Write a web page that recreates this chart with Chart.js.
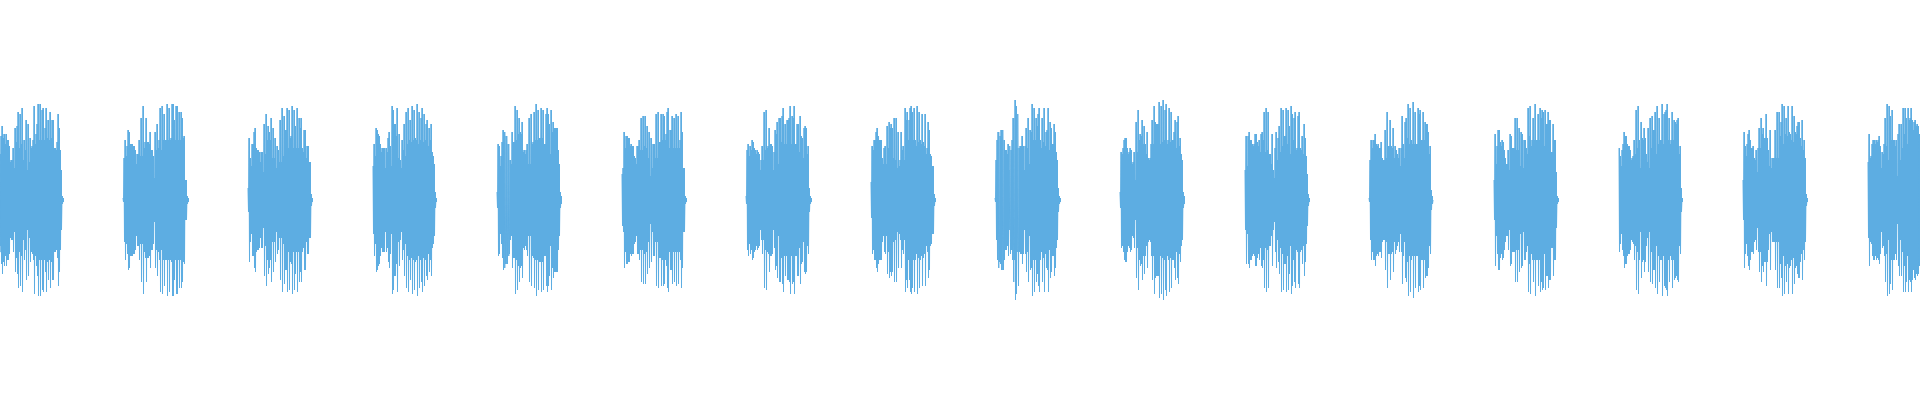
<!DOCTYPE html>
<html>
<head>
<meta charset="utf-8">
<script src="https://cdn.jsdelivr.net/npm/chart.js@4"></script>
<style>
    html, body { margin: 0; padding: 0; background: #ffffff; }
    #wrap { width: 1920px; height: 400px; }
</style>
</head>
<body>
<div id="wrap"><canvas id="waveChart" width="1920" height="400"></canvas></div>
<script>
// sample position where each burst begins
const burstStart = [-2, 123, 248, 373, 497, 622, 746, 871, 995, 1120, 1245, 1369, 1494, 1619, 1743, 1868];

// peak amplitude per sample column (percent of full scale)
const burst0 = [20, 26, 23, 32, 37, 31, 33, 28, 33, 30, 30, 27, 19, 20, 20, 26, 16, 36, 29, 37, 44, 26, 43, 28, 46, 20, 30, 25, 40, 15, 38, 19, 31, 26, 27, 30, 47, 28, 33, 38, 48, 30, 48, 30, 45, 46, 30, 36, 46, 31, 40, 30, 44, 31, 40, 40, 26, 26, 25, 29, 43, 36, 25, 15, 2, 1];
const burst1 = [1, 21, 30, 22, 27, 35, 34, 28, 28, 28, 27, 27, 25, 18, 23, 23, 30, 22, 41, 22, 47, 26, 29, 41, 29, 29, 28, 34, 25, 25, 22, 11, 34, 25, 38, 26, 30, 46, 25, 47, 30, 43, 30, 30, 48, 30, 46, 30, 31, 48, 48, 40, 30, 47, 47, 30, 44, 30, 44, 41, 31, 32, 10, 10, 2, 1];
const burst2 = [6, 31, 21, 17, 28, 28, 34, 36, 26, 25, 25, 24, 19, 24, 24, 14, 38, 23, 43, 30, 37, 34, 30, 41, 21, 36, 21, 31, 16, 27, 25, 19, 40, 19, 46, 22, 42, 35, 35, 46, 26, 45, 31, 32, 47, 26, 45, 37, 26, 46, 26, 41, 36, 41, 26, 24, 35, 35, 21, 27, 27, 19, 19, 3, 1];
const burst3 = [17, 28, 22, 36, 35, 33, 32, 28, 24, 26, 26, 26, 16, 26, 24, 31, 34, 27, 17, 47, 45, 38, 38, 32, 46, 21, 33, 20, 16, 30, 25, 38, 22, 44, 28, 46, 30, 40, 29, 47, 30, 45, 31, 30, 48, 28, 44, 30, 41, 46, 29, 43, 30, 38, 40, 27, 36, 30, 38, 24, 22, 18, 4, 1];
const burst4 = [4, 28, 27, 17, 22, 29, 35, 34, 32, 32, 32, 28, 27, 20, 18, 34, 29, 29, 47, 30, 45, 33, 41, 34, 33, 39, 24, 25, 23, 25, 28, 18, 41, 18, 43, 28, 29, 44, 30, 48, 30, 45, 31, 31, 46, 31, 45, 28, 28, 43, 46, 43, 38, 23, 45, 34, 39, 36, 36, 36, 36, 25, 18, 4, 2];
const burst5 = [13, 16, 34, 26, 32, 32, 31, 31, 27, 28, 27, 27, 22, 21, 18, 27, 27, 30, 25, 41, 25, 42, 27, 42, 26, 37, 21, 34, 12, 31, 16, 28, 28, 21, 43, 21, 44, 29, 29, 43, 30, 43, 42, 30, 33, 44, 46, 26, 35, 35, 42, 26, 41, 26, 43, 26, 42, 26, 30, 44, 34, 16, 16, 2, 1];
const burst6 = [2, 25, 28, 22, 27, 25, 30, 29, 26, 25, 23, 25, 24, 23, 15, 20, 27, 20, 44, 25, 45, 26, 27, 36, 28, 28, 27, 15, 24, 35, 33, 39, 18, 41, 41, 29, 42, 46, 28, 38, 28, 40, 40, 41, 47, 28, 42, 41, 47, 28, 28, 38, 38, 24, 42, 32, 31, 21, 36, 37, 36, 23, 27, 6, 2, 1];
const burst7 = [9, 27, 25, 30, 30, 34, 36, 32, 30, 30, 30, 21, 18, 26, 27, 18, 37, 26, 39, 36, 38, 36, 21, 41, 20, 41, 16, 34, 17, 20, 34, 25, 27, 20, 46, 40, 44, 30, 40, 46, 47, 44, 30, 46, 30, 27, 47, 29, 44, 30, 28, 43, 29, 27, 43, 23, 26, 39, 35, 23, 22, 17, 17, 3, 1];
const burst8 = [1, 20, 30, 34, 31, 32, 35, 35, 35, 30, 25, 25, 23, 28, 15, 27, 25, 30, 41, 30, 50, 47, 26, 43, 26, 27, 27, 32, 27, 15, 27, 36, 26, 41, 18, 35, 34, 48, 30, 46, 30, 41, 37, 43, 46, 30, 26, 41, 29, 46, 27, 34, 35, 46, 25, 39, 36, 28, 28, 38, 34, 24, 20, 6, 2, 1];
const burst9 = [4, 24, 23, 26, 30, 31, 31, 26, 23, 24, 26, 25, 18, 19, 24, 10, 39, 24, 45, 30, 33, 32, 40, 28, 37, 28, 23, 34, 21, 20, 21, 28, 40, 28, 47, 39, 38, 38, 38, 49, 28, 47, 29, 50, 30, 45, 48, 28, 30, 46, 29, 44, 30, 30, 34, 40, 26, 39, 42, 27, 31, 23, 20, 4, 2];
const burst10 = [15, 32, 17, 32, 34, 30, 30, 28, 27, 28, 33, 33, 29, 27, 30, 24, 33, 34, 30, 44, 24, 46, 25, 44, 23, 23, 18, 33, 15, 11, 26, 34, 20, 31, 37, 24, 46, 27, 45, 32, 32, 46, 28, 45, 37, 23, 47, 43, 30, 41, 44, 25, 26, 42, 44, 26, 25, 32, 23, 38, 31, 22, 13, 3, 1];
const burst11 = [1, 20, 30, 26, 30, 30, 33, 28, 27, 28, 26, 26, 29, 21, 20, 20, 35, 21, 44, 27, 27, 40, 27, 26, 36, 21, 27, 25, 23, 21, 26, 17, 26, 42, 28, 21, 39, 41, 31, 48, 28, 46, 30, 28, 49, 28, 44, 28, 28, 46, 43, 45, 30, 30, 44, 30, 39, 38, 38, 34, 23, 27, 5, 2, 0];
const burst12 = [10, 33, 18, 27, 35, 35, 29, 27, 30, 29, 25, 21, 18, 18, 25, 15, 33, 32, 26, 26, 26, 41, 25, 41, 25, 36, 17, 34, 33, 16, 30, 30, 26, 23, 46, 32, 47, 27, 30, 41, 30, 48, 30, 30, 43, 30, 46, 41, 45, 44, 27, 45, 38, 38, 44, 40, 40, 24, 24, 38, 30, 30, 14, 2, 1];
const burst13 = [26, 22, 17, 25, 28, 34, 32, 32, 28, 27, 27, 25, 20, 21, 22, 30, 23, 45, 26, 47, 30, 16, 39, 31, 30, 36, 31, 23, 19, 36, 16, 41, 26, 42, 35, 35, 44, 23, 47, 28, 41, 30, 30, 48, 28, 43, 44, 45, 48, 30, 41, 28, 30, 44, 30, 40, 39, 38, 40, 41, 23, 27, 6, 1];
const burst14 = [10, 34, 27, 22, 28, 33, 35, 30, 26, 26, 27, 21, 20, 25, 14, 26, 36, 26, 41, 33, 36, 31, 31, 43, 31, 25, 17, 35, 16, 21, 21, 21, 35, 21, 44, 21, 44, 32, 39, 48, 28, 47, 33, 41, 32, 47, 34, 33, 30, 47, 29, 42, 34, 33, 37, 39, 39, 31, 27, 40, 25, 30, 21, 3, 1];
const burst15 = [19, 33, 21, 22, 28, 30, 30, 28, 30, 29, 30, 32, 27, 16, 24, 23, 28, 41, 27, 48, 20, 47, 42, 30, 45, 30, 30, 27, 30, 12, 33, 38, 20, 38, 26, 46, 33, 46, 41, 28, 46, 40, 41, 46, 40, 35, 39, 40, 37, 38, 37, 33];

const bursts = [burst0, burst1, burst2, burst3, burst4, burst5, burst6, burst7,
    burst8, burst9, burst10, burst11, burst12, burst13, burst14, burst15];

// each column swings up to +peak and back down to -peak; gaps break the line
const points = [];
bursts.forEach(function (burst, b) {
    const start = burstStart[b];
    burst.forEach(function (peak, i) {
        points.push({ x: start + i, y: peak });
        points.push({ x: start + i + 0.5, y: -peak });
    });
    points.push({ x: start + burst.length, y: null });
});

new Chart(document.getElementById("waveChart"), {
    type: "line",
    data: {
        datasets: [{
            data: points,
            borderColor: "#5DADE2",
            borderWidth: 1,
            pointRadius: 0,
            tension: 0,
            fill: false,
            spanGaps: false
        }]
    },
    options: {
        responsive: false,
        animation: false,
        layout: { padding: 0 },
        plugins: {
            legend: { display: false },
            tooltip: { enabled: false }
        },
        scales: {
            x: { type: "linear", min: 0, max: 1920, display: false },
            y: { min: -100, max: 100, display: false }
        }
    }
});
</script>
</body>
</html>
